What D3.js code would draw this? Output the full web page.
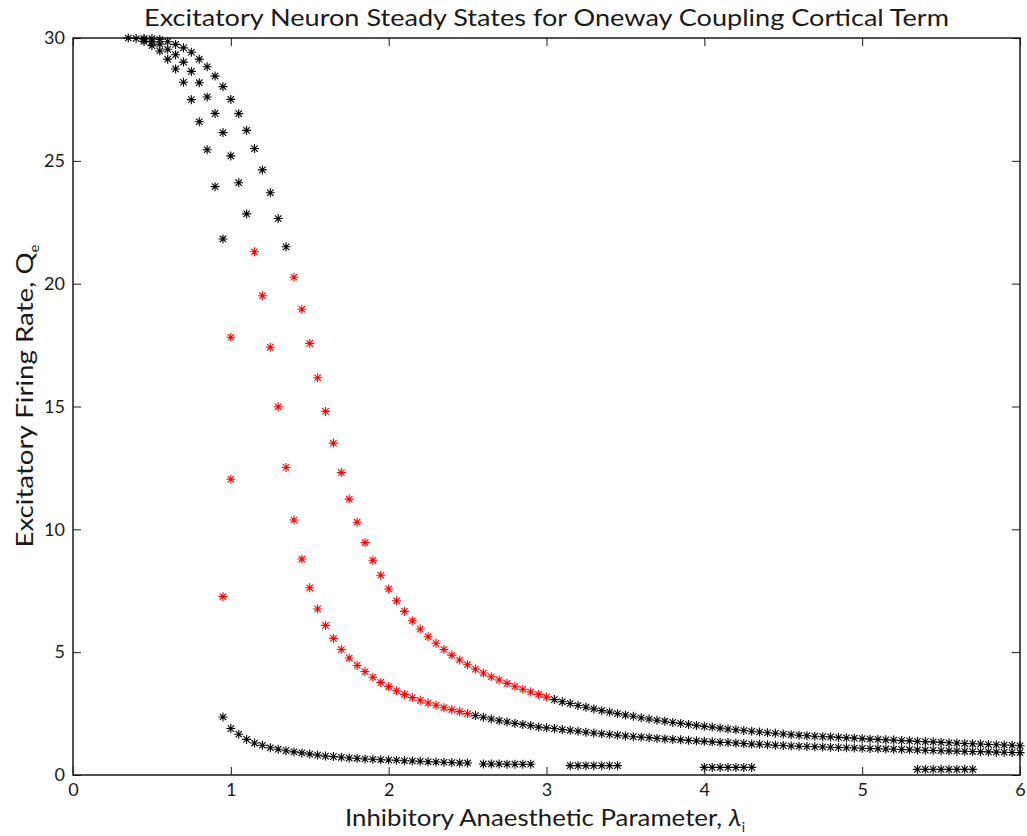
<!DOCTYPE html>
<html><head><meta charset="utf-8">
<script src="https://cdn.jsdelivr.net/npm/d3@7"></script>
<style>body{margin:0;background:#fff}</style>
</head><body><svg id="c" width="1027" height="836"></svg>
<script>
// ---------------- data ----------------
const lambdaStep = 0.05;
const xTicks = [0, 1, 2, 3, 4, 5, 6];
const yTicks = [0, 5, 10, 15, 20, 25, 30];

// upper branch
const b1StableStart = 0.35;
const b1StableQ = [30.0,29.98,29.98,29.98,29.94,29.85,29.74,29.6,29.42,29.14,28.83,28.45,28.02,27.5,26.92,26.24,25.5,24.63,23.7,22.65,21.5];
const b1UnstableStart = 1.4;
const b1UnstableQ = [20.26,18.96,17.57,16.17,14.8,13.51,12.31,11.23,10.29,9.46,8.74,8.13,7.57,7.09,6.66,6.28,5.94,5.63,5.36,5.11,4.88,4.68,4.49,4.31,4.15,4.0,3.87,3.73,3.61,3.49,3.38,3.28,3.17];
const b1TailStart = 3.05;
const b1TailQ = [3.07,2.98,2.91,2.83,2.76,2.69,2.62,2.56,2.50,2.44,2.39,2.33,2.28,2.23,2.19,2.14,2.10,2.06,2.02,1.98,1.95,1.91,1.87,1.84,1.81,1.78,1.75,1.72,1.70,1.67,1.64,1.62,1.60,1.58,1.56,1.55,1.53,1.51,1.50,1.48,1.46,1.45,1.43,1.42,1.40,1.39,1.37,1.36,1.35,1.33,1.31,1.30,1.28,1.27,1.26,1.24,1.23,1.22,1.21,1.19];

// middle branch
const b2StableStart = 0.45;
const b2StableQ = [29.93,29.85,29.75,29.54,29.32,29.02,28.64,28.18,27.6,26.93,26.15,25.2,24.11,22.84];
const b2UnstableStart = 1.15;
const b2UnstableQ = [21.3,19.51,17.41,14.99,12.52,10.38,8.79,7.62,6.76,6.09,5.56,5.11,4.76,4.46,4.21,3.98,3.77,3.6,3.43,3.28,3.15,3.04,2.93,2.84,2.74,2.66,2.58,2.5];
const b2TailStart = 2.55;
const b2TailQ = [2.42,2.35,2.28,2.21,2.16,2.10,2.06,2.01,1.95,1.92,1.89,1.85,1.82,1.78,1.74,1.71,1.68,1.65,1.62,1.59,1.56,1.54,1.52,1.49,1.47,1.45,1.43,1.41,1.39,1.37,1.35,1.33,1.32,1.30,1.28,1.26,1.25,1.23,1.21,1.20,1.18,1.17,1.16,1.15,1.14,1.13,1.12,1.11,1.10,1.09,1.08,1.07,1.06,1.05,1.04,1.03,1.02,1.01,1.00,0.99,0.98,0.97,0.965,0.955,0.95,0.94,0.93,0.925,0.915,0.91];

// lower-left branch with fold
const b3StableStart = 0.45;
const b3StableQ = [29.86,29.69,29.47,29.14,28.74,28.2,27.49,26.59,25.45,23.95,21.82];
const foldLambda = [1.0, 1.0, 0.95];
const foldQ = [17.82, 12.04, 7.26];

// bottom branch and its segments
const lowStart = 0.95;
const lowQ = [2.36,1.89,1.66,1.45,1.30,1.21,1.11,1.05,0.99,0.94,0.90,0.85,0.81,0.77,0.75,0.72,0.69,0.68,0.65,0.64,0.62,0.61,0.60,0.58,0.57,0.56,0.54,0.53,0.52,0.51,0.49,0.49];
const seg1Start = 2.6;  const seg1Q = [0.45,0.45,0.45,0.44,0.44,0.44,0.44];
const seg2Start = 3.15; const seg2Q = [0.38,0.38,0.38,0.38,0.38,0.38,0.38];
const seg3Start = 4.0;  const seg3Q = [0.31,0.31,0.31,0.31,0.31,0.31,0.31];
const seg4Start = 5.35; const seg4Q = [0.23,0.23,0.23,0.23,0.23,0.23,0.23,0.23];

// ---------------- build ----------------
function grid(start, qs) { return qs.map((q, i) => [start + i * lambdaStep, q]); }
const stablePts = [].concat(
  grid(b1StableStart, b1StableQ), grid(b1TailStart, b1TailQ),
  grid(b2StableStart, b2StableQ), grid(b2TailStart, b2TailQ),
  grid(b3StableStart, b3StableQ),
  grid(lowStart, lowQ), grid(seg1Start, seg1Q), grid(seg2Start, seg2Q),
  grid(seg3Start, seg3Q), grid(seg4Start, seg4Q));
const unstablePts = [].concat(
  grid(b1UnstableStart, b1UnstableQ), grid(b2UnstableStart, b2UnstableQ),
  foldLambda.map((l, i) => [l, foldQ[i]]));

const L = 73, R = 1020, T = 38, B = 775;
const FONT = "Lato, 'Open Sans', sans-serif";
const svg = d3.select("#c");
const x = d3.scaleLinear().domain([0, 6]).range([L, R]);
const y = d3.scaleLinear().domain([0, 30]).range([B, T]);

const AX = "#1a1a1a";
function styleAxis(g) {
  g.select(".domain").remove();
  g.selectAll(".tick line").attr("stroke", AX).attr("stroke-width", 1);
  g.selectAll("text").attr("font-family", FONT).attr("font-size", 18).attr("fill", "#1a1a1a");
}
svg.append("g").attr("transform", `translate(0,${B})`)
  .call(d3.axisBottom(x).tickValues(xTicks).tickSizeInner(-8).tickSizeOuter(0).tickPadding(8).tickFormat(d3.format("d")))
  .call(styleAxis);
svg.append("g").attr("transform", `translate(0,${T})`)
  .call(d3.axisTop(x).tickValues(xTicks).tickSizeInner(-8).tickSizeOuter(0).tickFormat(""))
  .call(styleAxis);
svg.append("g").attr("transform", `translate(${L},0)`)
  .call(d3.axisLeft(y).tickValues(yTicks).tickSizeInner(-8).tickSizeOuter(0).tickPadding(8).tickFormat(d3.format("d")))
  .call(styleAxis);
svg.append("g").attr("transform", `translate(${R},0)`)
  .call(d3.axisRight(y).tickValues(yTicks).tickSizeInner(-8).tickSizeOuter(0).tickFormat(""))
  .call(styleAxis);

svg.append("rect").attr("x", L).attr("y", T).attr("width", R - L).attr("height", B - T)
  .attr("fill", "none").attr("stroke", AX).attr("stroke-width", 1.5);

const star = "M-4.5,0H4.5M0,-4.5V4.5M-3.2,-3.2L3.2,3.2M-3.2,3.2L3.2,-3.2";
function drawPts(pts, color) {
  svg.append("g").selectAll("path").data(pts).join("path")
    .attr("transform", d => `translate(${x(d[0])},${y(d[1])})`)
    .attr("d", star).attr("fill", "none").attr("stroke", color).attr("stroke-width", 1.1);
}
drawPts(stablePts, "#000");
drawPts(unstablePts, "#ff0000");

// title and labels
svg.append("text").attr("x", (L + R) / 2).attr("y", 26).attr("text-anchor", "middle")
  .attr("font-family", FONT).attr("font-size", 24).attr("fill", "#1a1a1a")
  .attr("textLength", 805).attr("lengthAdjust", "spacingAndGlyphs")
  .text("Excitatory Neuron Steady States for Oneway Coupling Cortical Term");

const xl = svg.append("text").attr("x", 545).attr("y", 826).attr("text-anchor", "middle")
  .attr("font-family", FONT).attr("font-size", 24).attr("fill", "#1a1a1a")
  .attr("textLength", 400).attr("lengthAdjust", "spacingAndGlyphs");
xl.append("tspan").text("Inhibitory Anaesthetic Parameter, ");
xl.append("tspan").attr("font-style", "italic").text("λ");
xl.append("tspan").attr("font-size", 13).attr("dy", 6).text("i");

const yl = svg.append("text").attr("transform", "translate(33,396) rotate(-90)").attr("text-anchor", "middle")
  .attr("font-family", FONT).attr("font-size", 24).attr("fill", "#1a1a1a")
  .attr("textLength", 303).attr("lengthAdjust", "spacingAndGlyphs");
yl.append("tspan").text("Excitatory Firing Rate, Q");
yl.append("tspan").attr("font-size", 13).attr("dy", 6).text("e");
</script></body></html>
